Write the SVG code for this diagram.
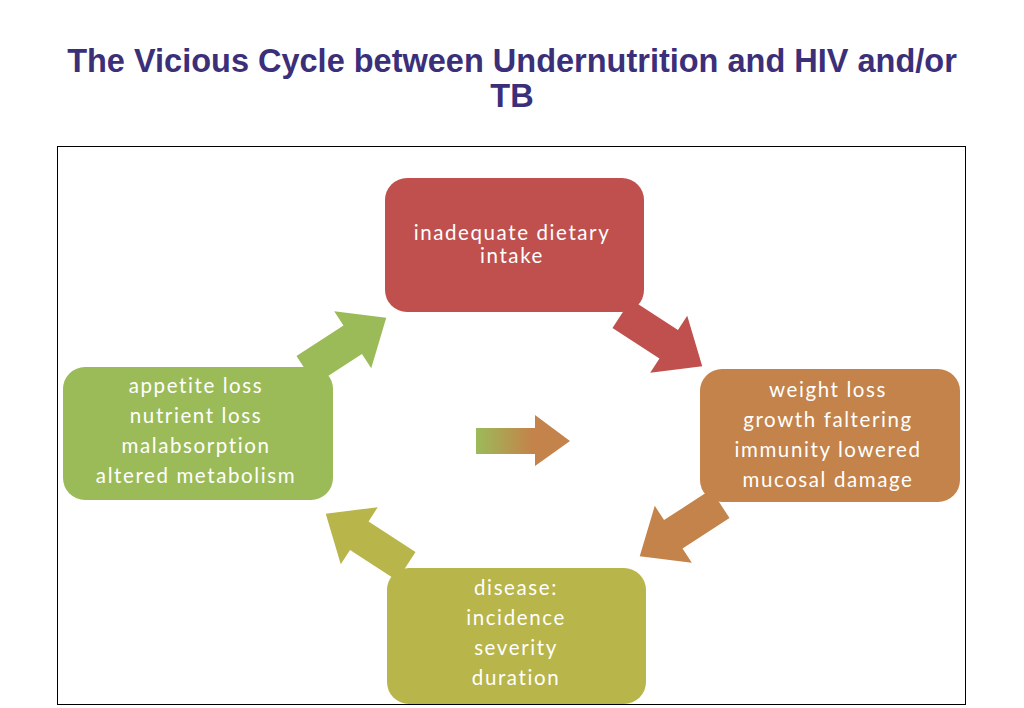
<svg xmlns="http://www.w3.org/2000/svg" width="1024" height="708" viewBox="0 0 1024 708">
<style>
.t{font-family:"Liberation Sans",Arial,sans-serif;font-weight:bold;font-size:32.5px;fill:#3b2f7a;text-anchor:middle}
.l{font-family:Lato,"Open Sans",sans-serif;font-size:20.5px;fill:#fff;text-anchor:middle;letter-spacing:1.6px}
</style>
<defs>
<path id="ar" d="M-48,-17 L8,-17 L8,-34 L48,0 L8,34 L8,17 L-48,17 Z"/>
<linearGradient id="g" x1="0" x2="1"><stop offset="0" stop-color="#9bbb59"/><stop offset="0.6" stop-color="#c4834a"/></linearGradient>
</defs>
<rect width="1024" height="708" fill="#fff"/>
<text class="t" x="512" y="72">The Vicious Cycle between Undernutrition and HIV and/or</text>
<text class="t" x="512" y="107">TB</text>
<rect x="57.5" y="146.5" width="908" height="558" fill="#fff" stroke="#000" stroke-width="1"/>
<g id="connectors">
<use href="#ar" fill="#c0504d" transform="translate(662,340) rotate(33)"/>
<use href="#ar" fill="#c4834a" transform="translate(680,530) rotate(147)"/>
<use href="#ar" fill="#b8b54a" transform="translate(366,540) rotate(213)"/>
<use href="#ar" fill="#9bbb59" transform="translate(346,344) rotate(-33)"/>
<path d="M476,428 L535,428 L535,415 L570,441 L535,466 L535,454 L476,454 Z" fill="url(#g)"/>
</g>
<g id="n1"><rect x="385" y="178" width="259" height="134" rx="22" fill="#c0504d"/>
<text class="l" x="512" y="240">inadequate dietary</text><text class="l" x="512" y="263">intake</text></g>
<g id="n2"><rect x="700" y="369" width="260" height="133" rx="22" fill="#c4834a"/>
<text class="l" x="828" y="397">weight loss</text><text class="l" x="828" y="427">growth faltering</text><text class="l" x="828" y="457">immunity lowered</text><text class="l" x="828" y="487">mucosal damage</text></g>
<g id="n3"><rect x="387" y="568" width="259" height="136" rx="22" fill="#b8b54a"/>
<text class="l" x="516" y="595">disease:</text><text class="l" x="516" y="625">incidence</text><text class="l" x="516" y="655">severity</text><text class="l" x="516" y="685">duration</text></g>
<g id="n4"><rect x="63" y="367" width="270" height="133" rx="22" fill="#9bbb59"/>
<text class="l" x="196" y="393">appetite loss</text><text class="l" x="196" y="423">nutrient loss</text><text class="l" x="196" y="453">malabsorption</text><text class="l" x="196" y="483">altered metabolism</text></g>
</svg>
